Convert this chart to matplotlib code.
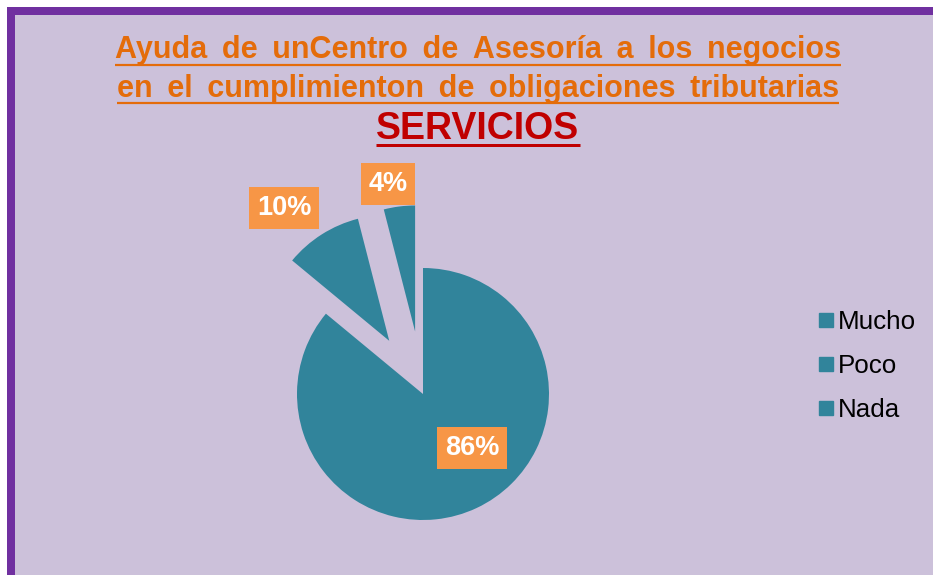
import matplotlib
matplotlib.use("Agg")
import matplotlib.pyplot as plt
from matplotlib.patches import Rectangle
from matplotlib.lines import Line2D

plt.rcParams["font.family"] = ["Liberation Sans", "DejaVu Sans"]

# Data
categories = ["Mucho", "Poco", "Nada"]
values = [86, 10, 4]
explode = [0.0, 0.5, 0.5]

title_lines = ["Ayuda de unCentro de Asesoría a los negocios",
               "en el cumplimienton de obligaciones tributarias"]
subtitle = "SERVICIOS"

# Colours
TEAL = "#31849B"
BOX = "#F79646"
BG = "#CCC1DA"
FRAME = "#7030A0"
ORANGE = "#E46C0A"
RED = "#C00000"

W, H, DPI = 933, 575, 100
fig = plt.figure(figsize=(W / DPI, H / DPI), dpi=DPI, facecolor="white")

def fx(px):
    return px / W

def fy(py):
    return 1 - py / H

# Chart-area frame (runs off the right and bottom edges)
frame = Rectangle((fx(11), -0.2), 2.0, fy(11) + 0.2, transform=fig.transFigure,
                  facecolor=BG, edgecolor=FRAME, linewidth=8 * 72 / DPI, zorder=-1)
fig.add_artist(frame)

# Pie axes: one data unit equals the pie radius in pixels
R = 126.0
cx, cy = 423.0, 394.0
ax = fig.add_axes([0, 0, 1, 1])
ax.set_facecolor("none")
ax.pie(values, colors=[TEAL] * len(values), startangle=90, counterclock=False,
       explode=explode, radius=1, center=(0, 0), wedgeprops=dict(linewidth=0))
ax.set_xlim(-cx / R, (W - cx) / R)
ax.set_ylim(-(H - cy) / R, cy / R)
ax.axis("off")

# Percentage labels
label_px = [(472, 448), (284, 208), (388, 184)]
for v, (px, py) in zip(values, label_px):
    ax.text((px - cx) / R, (cy - py) / R, f"{v}%", ha="center", va="center",
            fontsize=19.5, fontweight="bold", color="white",
            bbox=dict(boxstyle="square,pad=0.28", fc=BOX, ec="none"))

# Legend
handles = [Line2D([], [], marker="s", linestyle="none", markersize=10,
                  markerfacecolor=TEAL, markeredgecolor=TEAL) for _ in categories]
fig.legend(handles, categories, loc="center left", bbox_to_anchor=(fx(820), fy(366)),
           frameon=False, fontsize=18.7, handlelength=0.5, handletextpad=0.2,
           labelspacing=0.78, borderpad=0, borderaxespad=0)

# Titles (slightly widened word spacing)
wide = " \u2009"
cxt = fx(478)
t1 = fig.text(cxt, fy(58), title_lines[0].replace(" ", wide), ha="center", va="baseline",
              fontsize=22, fontweight="bold", color=ORANGE)
t2 = fig.text(cxt, fy(97), title_lines[1].replace(" ", wide), ha="center", va="baseline",
              fontsize=22, fontweight="bold", color=ORANGE)
t3 = fig.text(cxt, fy(139), subtitle, ha="center", va="baseline",
              fontsize=27, fontweight="bold", color=RED)

fig.canvas.draw()
renderer = fig.canvas.get_renderer()
for t, uy, lw, col in [(t1, 65, 2.2, ORANGE), (t2, 103, 2.2, ORANGE), (t3, 145, 3.0, RED)]:
    bb = t.get_window_extent(renderer)
    fig.add_artist(Line2D([bb.x0 / W, bb.x1 / W], [fy(uy), fy(uy)],
                          transform=fig.transFigure, color=col,
                          linewidth=lw * 72 / DPI, solid_capstyle="butt"))

fig.savefig("out.png", dpi=DPI, facecolor="white")
